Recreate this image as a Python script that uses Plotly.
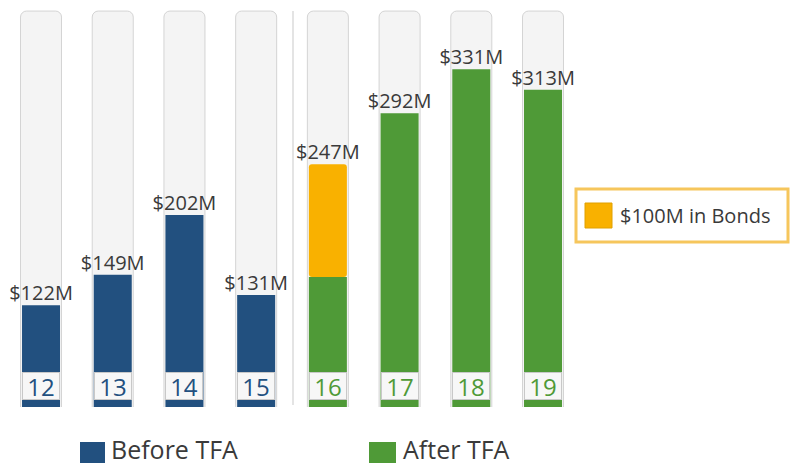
import plotly.graph_objects as go

# ---- data ----
years = ["12", "13", "14", "15", "16", "17", "18", "19"]
before_tfa = [122, 149, 202, 131, None, None, None, None]
after_tfa = [None, None, None, None, 147, 292, 331, 313]
bonds = [None, None, None, None, 100, None, None, None]
value_labels = ["$122M", "$149M", "$202M", "$131M", "$247M", "$292M", "$331M", "$313M"]
legend_labels = ["Before TFA", "After TFA", "$100M in Bonds"]

BLUE = "#22507F"
GREEN = "#4F9A37"
ORANGE = "#F9B100"
TRACK_FILL = "#F4F4F4"
TRACK_LINE = "#D4D4D4"
TEXT = "#3A3A3A"
FONT = "Open Sans"

W, H = 791, 465
TRACK_TOP = 382.6

totals = []
for b, a, o in zip(before_tfa, after_tfa, bonds):
    totals.append((b or 0) + (a or 0) + (o or 0))
bonds_base = [a if o is not None else None for a, o in zip(after_tfa, bonds)]

fig = go.Figure()

# background tracks
fig.add_trace(go.Bar(
    x=years, y=[TRACK_TOP] * len(years), width=0.572,
    marker=dict(color=TRACK_FILL, line=dict(color=TRACK_LINE, width=1), cornerradius=6),
    hoverinfo="skip", showlegend=False))

fig.add_trace(go.Bar(
    x=years, y=before_tfa, width=0.53, name=legend_labels[0],
    marker=dict(color=BLUE, line=dict(width=0), cornerradius=3), showlegend=False))
fig.add_trace(go.Bar(
    x=years, y=after_tfa, width=0.53, name=legend_labels[1],
    marker=dict(color=GREEN, line=dict(width=0), cornerradius=3), showlegend=False))
fig.add_trace(go.Bar(
    x=years, y=bonds, base=bonds_base, width=0.53, name=legend_labels[2],
    marker=dict(color=ORANGE, line=dict(width=0), cornerradius=3), showlegend=False))

# value labels
fig.add_trace(go.Scatter(
    x=years, y=totals, mode="text", text=value_labels, textposition="top center",
    textfont=dict(family=FONT, size=20, color=TEXT), cliponaxis=False,
    hoverinfo="skip", showlegend=False))

shapes = []
# divider between before/after
shapes.append(dict(type="line", xref="x", yref="paper", x0=3.514, x1=3.514,
                   y0=1 - 405 / H, y1=1 - 11 / H, line=dict(color="#E4E4E4", width=2),
                   layer="below"))
# white cover below the tracks
shapes.append(dict(type="rect", xref="paper", yref="paper", x0=0, x1=1,
                   y0=0, y1=1 - 407 / H, fillcolor="white", line=dict(width=0),
                   layer="above"))
# bottom legend squares
shapes.append(dict(type="rect", xref="paper", yref="paper", x0=80 / W, x1=105 / W,
                   y0=1 - 463 / H, y1=1 - 442 / H, fillcolor=BLUE, line=dict(width=0),
                   layer="above"))
shapes.append(dict(type="rect", xref="paper", yref="paper", x0=369 / W, x1=396 / W,
                   y0=1 - 463 / H, y1=1 - 442 / H, fillcolor=GREEN, line=dict(width=0),
                   layer="above"))
# bonds legend box
shapes.append(dict(type="rect", xref="paper", yref="paper", x0=576 / W, x1=788 / W,
                   y0=1 - 242 / H, y1=1 - 189 / H, fillcolor="white",
                   line=dict(color="#F6C65C", width=3), layer="above"))
shapes.append(dict(type="rect", xref="paper", yref="paper", x0=585 / W, x1=612 / W,
                   y0=1 - 228 / H, y1=1 - 203 / H, fillcolor=ORANGE,
                   line=dict(color="#E0A000", width=1), layer="above"))

annotations = []
# tick label boxes (category axis -> use serial index)
for i, yr in enumerate(years):
    col = BLUE if before_tfa[i] is not None else GREEN
    annotations.append(dict(
        x=i, xref="x", y=1 - 386 / H, yref="paper", text=yr, showarrow=False,
        font=dict(family=FONT, size=24, color=col), bgcolor="#F7F7F7",
        bordercolor="#C8C8C8", borderwidth=1, borderpad=0, width=36, height=26,
        xanchor="center", yanchor="middle"))

annotations.append(dict(x=109 / W, y=1 - 449 / H, xref="paper", yref="paper",
                        text=legend_labels[0], showarrow=False, xanchor="left",
                        yanchor="middle", font=dict(family=FONT, size=25, color=TEXT)))
annotations.append(dict(x=401 / W, y=1 - 449 / H, xref="paper", yref="paper",
                        text=legend_labels[1], showarrow=False, xanchor="left",
                        yanchor="middle", font=dict(family=FONT, size=25, color=TEXT)))
annotations.append(dict(x=618 / W, y=1 - 215 / H, xref="paper", yref="paper",
                        text=legend_labels[2], showarrow=False, xanchor="left",
                        yanchor="middle", font=dict(family=FONT, size=20, color=TEXT)))

fig.update_layout(
    width=W, height=H, margin=dict(l=0, r=0, t=0, b=0, pad=0),
    barmode="overlay", plot_bgcolor="white", paper_bgcolor="white",
    xaxis=dict(type="category", range=[-0.572, 10.458], showgrid=False,
               showticklabels=False, zeroline=False, showline=False, ticks=""),
    yaxis=dict(range=[-19.5, 392.4], showgrid=False, showticklabels=False,
               zeroline=False, showline=False, ticks=""),
    shapes=shapes, annotations=annotations, showlegend=False,
)

fig.write_html(
    "out.html",
    config={"displayModeBar": False},
    post_script="document.body.style.margin='0';document.body.style.overflow='hidden';",
)
